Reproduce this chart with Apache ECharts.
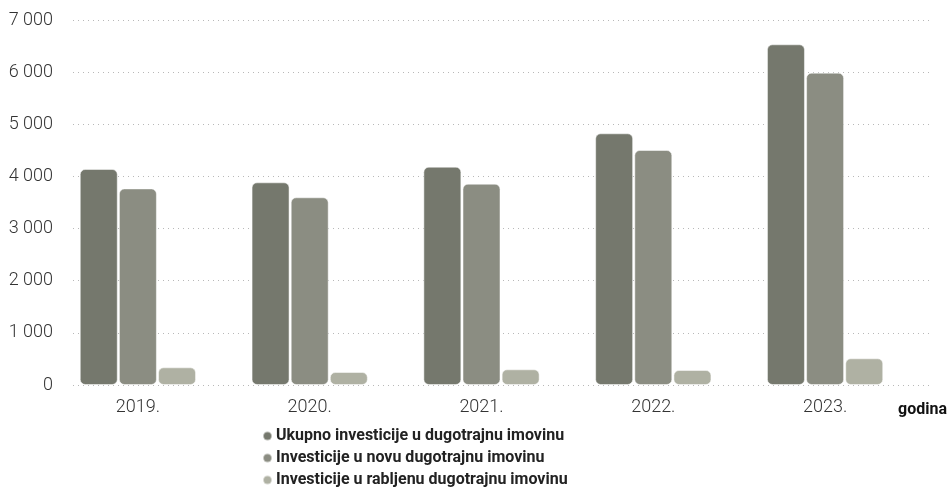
<!DOCTYPE html>
<html>
<head>
<meta charset="utf-8">
<script src="https://cdn.jsdelivr.net/npm/echarts@6/dist/echarts.min.js"></script>
<style>
html,body{margin:0;padding:0;background:#fff;}
#chart{width:949px;height:489px;}
</style>
</head>
<body>
<div id="chart"></div>
<script>
var categories = ['2019.', '2020.', '2021.', '2022.', '2023.'];
var seriesNames = [
  'Ukupno investicije u dugotrajnu imovinu',
  'Investicije u novu dugotrajnu imovinu',
  'Investicije u rabljenu dugotrajnu imovinu'
];
var ukupno = [4143, 3887, 4187, 4827, 6534];
var nova = [3770, 3600, 3861, 4507, 5990];
var rabljena = [339, 249, 301, 288, 512];
var colors = ['#75786d', '#8b8d82', '#afb1a3'];
var yMin = 0, yMax = 7000, yInterval = 1000;
var axisTitle = 'godina';

var chart = echarts.init(document.getElementById('chart'), null, {renderer: 'canvas'});
var fontFamily = 'Roboto, "Noto Sans", sans-serif';

function fmt(v) {
  return String(v).replace(/\B(?=(\d{3})+(?!\d))/g, ' ');
}

var dataSets = [ukupno, nova, rabljena];
var series = dataSets.map(function (d, i) {
  return {
    name: seriesNames[i],
    type: 'bar',
    xAxisIndex: 1,
    yAxisIndex: 1,
    data: d,
    barWidth: 38,
    barGap: '3%',
    itemStyle: {
      color: colors[i],
      borderRadius: 5,
      borderColor: 'rgba(255,255,255,0.5)',
      borderWidth: 1
    },
    emphasis: {disabled: true}
  };
});

chart.setOption({
  animation: false,
  textStyle: {fontFamily: fontFamily},
  color: colors,
  title: {
    text: axisTitle,
    right: 2,
    top: 402,
    padding: 0,
    textStyle: {fontFamily: fontFamily, fontSize: 16, fontWeight: 'bold', color: '#111'}
  },
  legend: {
    orient: 'vertical',
    left: 260,
    top: 425,
    height: 100,
    itemGap: 4,
    icon: 'circle',
    itemWidth: 9,
    itemHeight: 9,
    padding: [2, 2, 2, 2],
    data: seriesNames,
    textStyle: {fontFamily: fontFamily, fontSize: 16, lineHeight: 18, fontWeight: 'bold', color: '#222', padding: [0, 0, 0, -1]}
  },
  grid: [
    {left: 73, right: 20, top: 20, bottom: 104, containLabel: false},
    {left: 52, width: 859, top: 20, bottom: 104, containLabel: false}
  ],
  xAxis: [
    {gridIndex: 0, type: 'category', data: categories, show: false},
    {
      gridIndex: 1,
      type: 'category',
      data: categories,
      axisLine: {show: false},
      axisTick: {show: false},
      axisLabel: {fontFamily: fontFamily, fontSize: 18, fontWeight: 300, color: '#333', margin: 13}
    }
  ],
  yAxis: [
    {
      gridIndex: 0,
      type: 'value',
      min: yMin, max: yMax, interval: yInterval,
      axisLine: {show: false},
      axisTick: {show: false},
      axisLabel: {fontFamily: fontFamily, fontSize: 18, fontWeight: 300, color: '#333', margin: 20, formatter: fmt},
      splitLine: {show: true, lineStyle: {type: [1, 4], color: '#b8b8b8', width: 1}}
    },
    {
      gridIndex: 1,
      type: 'value',
      min: yMin, max: yMax, interval: yInterval,
      show: false,
      splitLine: {show: false}
    }
  ],
  series: series
});
</script>
</body>
</html>
